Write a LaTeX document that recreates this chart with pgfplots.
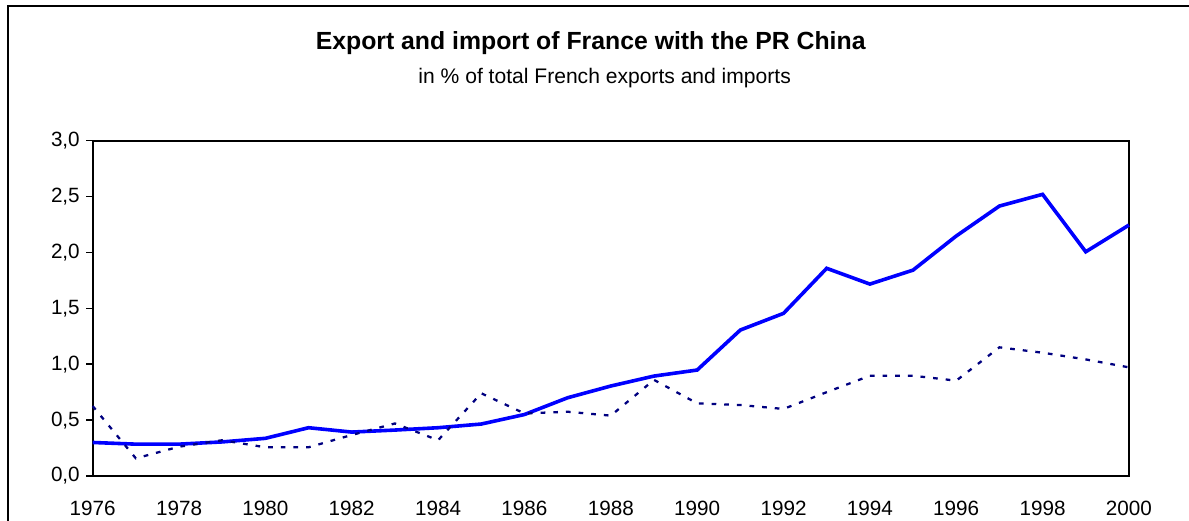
\documentclass[border=0pt]{standalone}
\usepackage{fontspec}
\setmainfont{Liberation Sans}
\usepackage{pgfplots}
\pgfplotsset{compat=1.18}
\definecolor{lineblue}{RGB}{0,0,255}
\definecolor{navyline}{RGB}{0,0,128}
\begin{document}
\begin{tikzpicture}
\useasboundingbox (0,0) rectangle (891.75pt,-390.75pt);
\draw[line width=1.5pt, line cap=rect] (6pt,-400pt) -- (6pt,-4.5pt) -- (900pt,-4.5pt);
\node[anchor=base, inner sep=0pt, font=\fontsize{18.6pt}{22pt}\selectfont\bfseries] at (443pt,-37pt) {Export and import of France with the PR China};
\node[anchor=base, inner sep=0pt, font=\fontsize{15.8pt}{19pt}\selectfont] at (453.5pt,-62.5pt) {in \% of total French exports and imports};
\begin{axis}[
  at={(69.5pt,-105.5pt)}, anchor=north west,
  scale only axis, width=777.2pt, height=251.5pt,
  xmin=1976, xmax=2000, ymin=0, ymax=3,
  xtick={1976,1978,...,2000},
  ytick={0,0.5,...,3},
  xtick pos=bottom, ytick pos=left,
  major tick length=0pt,
  ytick style={draw=none},
  axis line style={line width=1.5pt},
  tick label style={font=\fontsize{15.5pt}{18pt}\selectfont},
  xticklabel style={anchor=base, inner sep=0pt, yshift=-29.5pt,
    /pgf/number format/.cd, 1000 sep={}, assume math mode=true},
  yticklabel style={anchor=east, inner sep=0pt, xshift=-9.5pt,
    /pgf/number format/.cd, use comma, fixed, fixed zerofill, precision=1, assume math mode=true},
  clip=false,
]
\addplot[lineblue, line width=2.7pt, line join=miter] coordinates {
(1976,0.30) (1977,0.285) (1978,0.285) (1979,0.305) (1980,0.337) (1981,0.432)
(1982,0.393) (1983,0.411) (1984,0.432) (1985,0.465) (1986,0.55) (1987,0.70)
(1988,0.805) (1989,0.894) (1990,0.948) (1991,1.306) (1992,1.455) (1993,1.858)
(1994,1.717) (1995,1.842) (1996,2.147) (1997,2.415) (1998,2.52) (1999,2.006)
(2000,2.245)};
\addplot[navyline, line width=1.7pt, dash pattern=on 3.5pt off 6pt] coordinates {
(1976,0.626) (1977,0.158) (1978,0.262) (1979,0.32) (1980,0.257) (1981,0.257)
(1982,0.367) (1983,0.47) (1984,0.32) (1985,0.74) (1986,0.56) (1987,0.575)
(1988,0.54) (1989,0.86) (1990,0.65) (1991,0.635) (1992,0.60) (1993,0.75)
(1994,0.897) (1995,0.897) (1996,0.853) (1997,1.151) (1998,1.103) (1999,1.043)
(2000,0.972)};
\pgfplotsinvokeforeach{0,0.5,1,1.5,2,2.5,3}{
  \draw[line width=1.2pt] (axis cs:1976,#1) -- ++(-5pt,0pt);
}
\end{axis}
\end{tikzpicture}
\end{document}
